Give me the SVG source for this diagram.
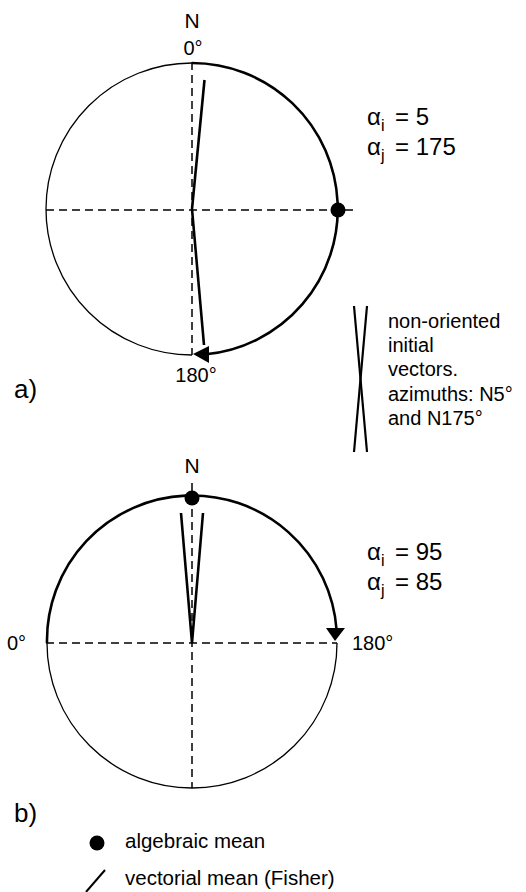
<svg xmlns="http://www.w3.org/2000/svg" width="526" height="892" viewBox="0 0 526 892">
<style>
text{font-family:"Liberation Sans",Arial,sans-serif;fill:#000}
.lbl{font-size:20px}
.n{font-size:21px}
.big{font-size:26px}
.alpha{font-size:24px}
.sub{font-size:16px}
.leg{font-size:20px}
.leg2{font-size:20.5px}
.thin{fill:none;stroke:#000;stroke-width:1.3}
.thick{fill:none;stroke:#000;stroke-width:2.6}
.dash{fill:none;stroke:#000;stroke-width:1.5;stroke-dasharray:8 5}
.vec{stroke:#000;stroke-width:2.6;fill:none}
</style>
<rect width="526" height="892" fill="#fff"/>
<g id="circle-a">
<path class="thin" d="M192,355 A146,146 0 0 1 192,63"/>
<path class="thick" d="M192,63 A146,146 0 0 1 206,354.3"/>
<polygon points="193,354 209,346 209,363" fill="#000"/>
<line class="dash" x1="192" y1="62" x2="192" y2="355"/>
<line class="dash" x1="46" y1="210" x2="353" y2="210"/>
<circle cx="338" cy="210" r="7.5" fill="#000"/>
<text class="n" x="192" y="28" text-anchor="middle">N</text>
<text class="lbl" x="193" y="55" text-anchor="middle">0°</text>
<text class="lbl" x="196" y="382" text-anchor="middle">180°</text>
<text class="big" x="14" y="398">a)</text>
<text class="alpha" x="367" y="125">α</text><text class="sub" x="381" y="131">i</text><text class="alpha" x="395" y="125">= 5</text>
<text class="alpha" x="367" y="155">α</text><text class="sub" x="381" y="161">j</text><text class="alpha" x="395" y="155">= 175</text>
</g>
<g id="vectors-a">
<line class="vec" x1="192" y1="209" x2="204.5" y2="80"/>
<line class="vec" x1="192" y1="209" x2="204" y2="345"/>
</g>
<g id="legend-x">
<line x1="354" y1="306" x2="367" y2="452" stroke="#000" stroke-width="2.2"/>
<line x1="367" y1="306" x2="354" y2="452" stroke="#000" stroke-width="2.2"/>
<text class="leg" x="388" y="328">non-oriented</text>
<text class="leg" x="388" y="352">initial</text>
<text class="leg" x="388" y="376">vectors.</text>
<text class="leg" x="388" y="401">azimuths: N5°</text>
<text class="leg" x="388" y="425">and N175°</text>
</g>
<g id="circle-b">
<path class="thin" d="M47,643 A145,145 0 0 0 337,643"/>
<path class="thick" d="M47,643 A145,145 0 0 1 336.6,630"/>
<polygon points="335,641 326,628 345,628" fill="#000"/>
<line class="dash" x1="192" y1="483" x2="192" y2="788"/>
<line class="dash" x1="46" y1="643" x2="337" y2="643"/>
<circle cx="192" cy="498" r="7.5" fill="#000"/>
<text class="n" x="192" y="473" text-anchor="middle">N</text>
<text class="lbl" x="26" y="650" text-anchor="end">0°</text>
<text class="lbl" x="352" y="650">180°</text>
<text class="big" x="14" y="822">b)</text>
<text class="alpha" x="367" y="560">α</text><text class="sub" x="381" y="566">i</text><text class="alpha" x="395" y="560">= 95</text>
<text class="alpha" x="367" y="590">α</text><text class="sub" x="381" y="596">j</text><text class="alpha" x="395" y="590">= 85</text>
</g>
<g id="vectors-b">
<polyline class="vec" points="181,513 192,643 203,513" stroke-linejoin="miter"/>
</g>
<g id="legend">
<circle cx="97" cy="843" r="7.5" fill="#000"/>
<text class="leg2" x="125" y="848">algebraic mean</text>
<line x1="86" y1="892" x2="105" y2="870" stroke="#000" stroke-width="2"/>
<text class="leg2" x="125" y="885">vectorial mean (Fisher)</text>
</g>
</svg>
